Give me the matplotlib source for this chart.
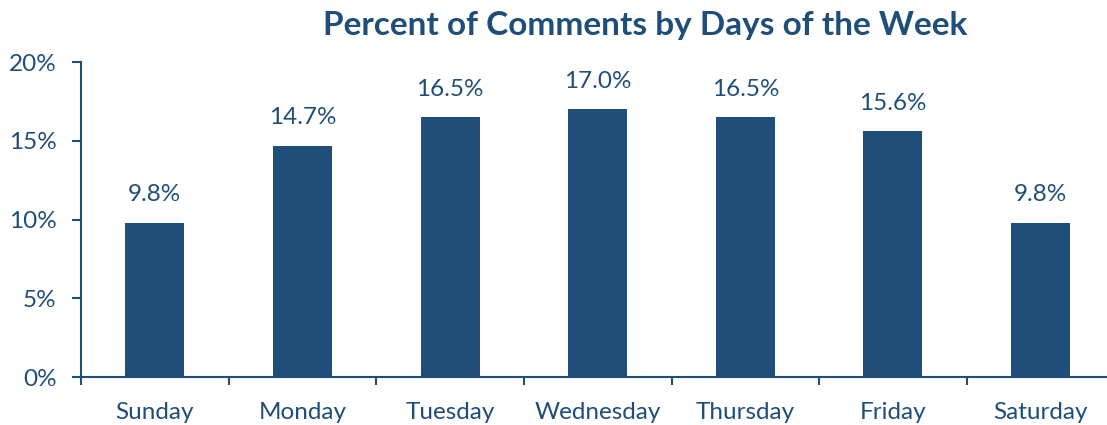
import matplotlib.pyplot as plt

# data
days = ["Sunday", "Monday", "Tuesday", "Wednesday", "Thursday", "Friday", "Saturday"]
pct = [9.8, 14.7, 16.5, 17.0, 16.5, 15.6, 9.8]
yticks = [0, 5, 10, 15, 20]

bar_color = "#1F4E79"
text_color = "#1F4E79"
plt.rcParams["font.family"] = ["Lato", "DejaVu Sans"]

fig = plt.figure(figsize=(11.07, 4.25), dpi=100)
ax = fig.add_axes([0.0732, 0.1129, 1 - 0.0732, 0.741])

x = range(len(days))
ax.bar(x, pct, width=0.4, color=bar_color, zorder=2)

for i, v in zip(x, pct):
    ax.text(i, v + 1.1, f"{v:.1f}%", ha="center", va="bottom",
            fontsize=17.5, color=text_color)

ax.set_xlim(-0.5, 6.45)
ax.set_ylim(0, 20)
ax.set_yticks(yticks)
ax.set_yticklabels([f"{t}%" for t in yticks], fontsize=17.5, color=text_color)

# category labels between the boundary ticks
ax.set_xticks([i - 0.5 for i in range(len(days))])
ax.set_xticklabels([])
ax.set_xticks(list(x), minor=True)
ax.set_xticklabels(days, minor=True, fontsize=17.5, color=text_color)
ax.tick_params(axis="x", which="minor", length=0, pad=18)
ax.tick_params(axis="x", which="major", length=6, width=1.5, color=text_color)
ax.tick_params(axis="y", length=6.5, width=1.5, color=text_color, pad=11)

for s in ["top", "right"]:
    ax.spines[s].set_visible(False)
for s in ["left", "bottom"]:
    ax.spines[s].set_color(text_color)
    ax.spines[s].set_linewidth(1.5)

fig.text(0.583, 0.94, "Percent of Comments by Days of the Week",
         ha="center", va="center", fontsize=24, fontweight="bold", color=text_color)

fig.savefig("out.png", dpi=100)
